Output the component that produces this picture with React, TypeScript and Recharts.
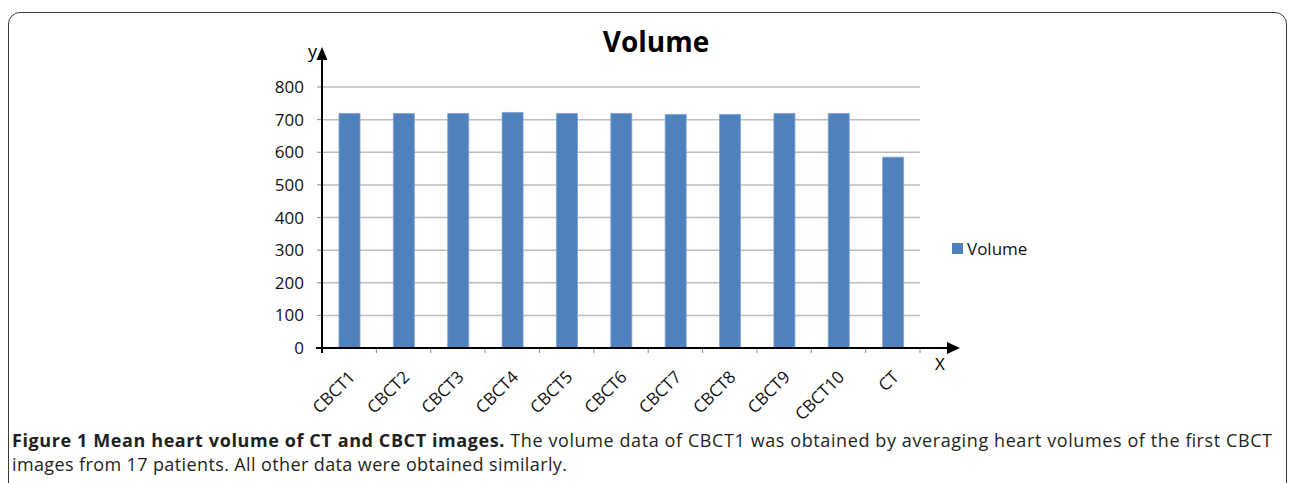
import {Bar, BarChart, CartesianGrid, XAxis, YAxis} from 'recharts';

const categories = ['CBCT1', 'CBCT2', 'CBCT3', 'CBCT4', 'CBCT5', 'CBCT6', 'CBCT7', 'CBCT8', 'CBCT9', 'CBCT10', 'CT'];
const volumes = [719, 719, 719, 722, 719, 719, 716, 716, 719, 719, 585];
const yTicks = [0, 100, 200, 300, 400, 500, 600, 700, 800];

const data = categories.map((name, i) => ({name, Volume: volumes[i]}));

const FONT = '"Open Sans", sans-serif';
const BAR_COLOR = '#4f81bd';

function XTick(props: any) {
    const {x, y, payload} = props;
    const half = payload && payload.offset ? payload.offset : 27.2;
    return (
        <g>
            <line x1={x + half} y1={y} x2={x + half} y2={y + 5} stroke="#888" strokeWidth={1}/>
            <text x={x + 7} y={y + 30} textAnchor="end" fontSize={17} fontFamily={FONT} fill="#111"
                  transform={`rotate(-45 ${x + 7} ${y + 30})`}>
                {payload.value}
            </text>
        </g>
    );
}

export default function App() {
    return (
        <div style={{position: 'absolute', left: 0, top: 0, width: 1290, height: 483, overflow: 'hidden', background: '#fff'}}>
            <div style={{
                position: 'absolute', left: 8, top: 12, width: 1279, height: 540,
                border: '1.5px solid #3a3a3a', borderRadius: 12, boxSizing: 'border-box'
            }}/>
            <div style={{
                position: 'absolute', left: 0, width: 1290, top: 22, textAlign: 'center', paddingLeft: 22,
                boxSizing: 'border-box', fontFamily: FONT, fontWeight: 700, fontSize: 28, color: '#000'
            }}>
                Volume
            </div>
            <div style={{position: 'absolute', left: 0, top: 0}}>
                <BarChart width={1290} height={483} data={data}
                          margin={{top: 87, right: 370, left: 262, bottom: 75}}>
                    <CartesianGrid vertical={false} stroke="#bdbdbd" strokeWidth={1.5}/>
                    <XAxis dataKey="name" height={60} axisLine={false} tickLine={false} tickSize={0} tickMargin={0}
                           interval={0} tick={<XTick/>}/>
                    <YAxis width={60} domain={[0, 800]} ticks={yTicks} axisLine={false}
                           tickLine={{stroke: '#888'}} tickSize={5} tickMargin={13}
                           tick={{fill: '#111', fontSize: 17, fontFamily: FONT}}/>
                    <Bar dataKey="Volume" fill={BAR_COLOR} stroke="#7da0d0" strokeWidth={0.8} barSize={21}
                         isAnimationActive={false}/>
                </BarChart>
            </div>
            <div style={{
                position: 'absolute', left: 952, top: 237, display: 'flex', alignItems: 'center',
                fontFamily: FONT, fontSize: 17, color: '#111'
            }}>
                <span style={{display: 'inline-block', width: 11, height: 11, background: BAR_COLOR, marginRight: 4}}/>
                Volume
            </div>
            <svg width={1290} height={483} style={{position: 'absolute', left: 0, top: 0, pointerEvents: 'none'}}>
                <line x1={322} y1={353} x2={322} y2={58} stroke="#000" strokeWidth={2}/>
                <polygon points="316.5,60 327.5,60 322,47" fill="#000"/>
                <line x1={316} y1={348} x2={950} y2={348} stroke="#000" strokeWidth={2}/>
                <polygon points="947,342 947,354 960,348" fill="#000"/>
                <text x={308} y={58} fontFamily={FONT} fontSize={18} fill="#000">y</text>
                <text x={935} y={370} fontFamily={FONT} fontSize={17} fill="#000">X</text>
                <text x={12} y={447} fontFamily={FONT} fontSize={18} fill="#231f20" textLength={1260}
                      lengthAdjust="spacing">
                    <tspan fontWeight={700}>Figure 1 Mean heart volume of CT and CBCT images.</tspan>
                    {' The volume data of CBCT1 was obtained by averaging heart volumes of the first CBCT'}
                </text>
                <text x={12} y={471} fontFamily={FONT} fontSize={18} fill="#231f20" textLength={555}
                      lengthAdjust="spacing">
                    images from 17 patients. All other data were obtained similarly.
                </text>
            </svg>
        </div>
    );
}
